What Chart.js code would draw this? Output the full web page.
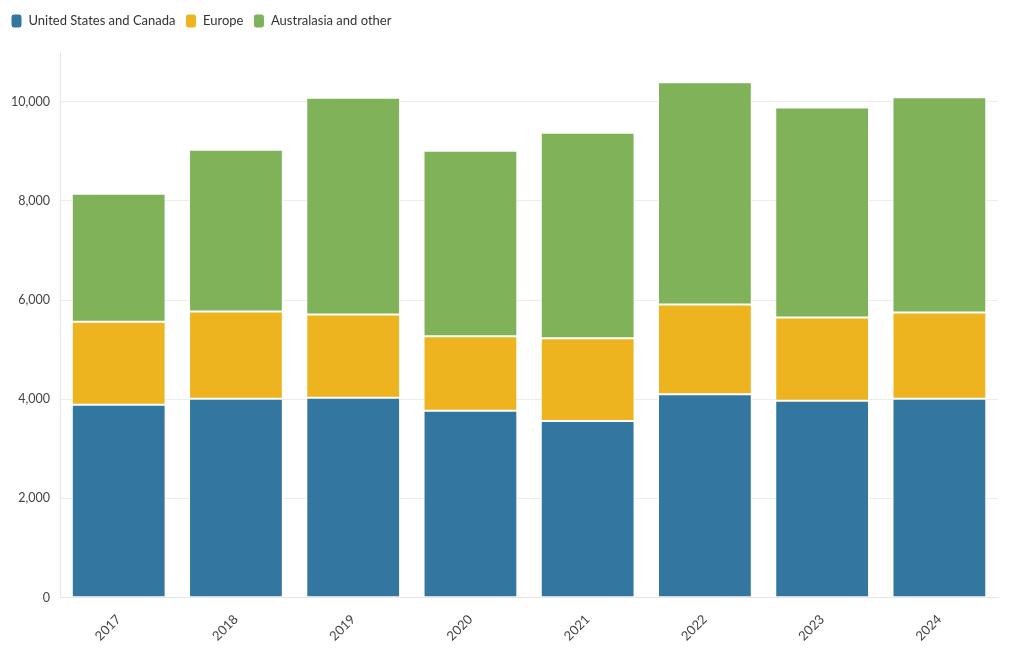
<!DOCTYPE html>
<html>
<head>
<meta charset="utf-8">
<script src="https://cdn.jsdelivr.net/npm/chart.js@4"></script>
<style>
  html, body { margin: 0; padding: 0; background: #fff; }
  #wrap { width: 1020px; height: 650px; }
</style>
</head>
<body>
<div id="wrap"><canvas id="chart"></canvas></div>
<script>
const years = ['2017', '2018', '2019', '2020', '2021', '2022', '2023', '2024'];
const usCanada = [3890, 4010, 4030, 3770, 3560, 4100, 3970, 4010];
const europe = [1670, 1760, 1680, 1500, 1670, 1810, 1680, 1740];
const other = [2580, 3260, 4370, 3740, 4140, 4480, 4230, 4340];
const yTicks = [0, 2000, 4000, 6000, 8000, 10000];

const font = 'Lato, "Source Sans Pro", sans-serif';

function series(label, data, color) {
  return {
    label: label,
    data: data,
    backgroundColor: color,
    borderColor: '#ffffff',
    borderWidth: 1,
    borderSkipped: false,
    categoryPercentage: 0.8,
    barPercentage: 1.0
  };
}

// extra space under the legend
const legendGap = {
  id: 'legendGap',
  beforeInit(chart) {
    const fit = chart.legend.fit;
    chart.legend.fit = function () {
      fit.bind(chart.legend)();
      this.height += 14;
    };
  }
};

new Chart(document.getElementById('chart'), {
  type: 'bar',
  data: {
    labels: years,
    datasets: [
      series('United States and Canada', usCanada, '#33769f'),
      series('Europe', europe, '#eeb420'),
      series('Australasia and other', other, '#80b25a')
    ]
  },
  plugins: [legendGap],
  options: {
    responsive: true,
    maintainAspectRatio: false,
    animation: false,
    layout: { padding: { left: 1, right: 22, top: 4, bottom: 0 } },
    plugins: {
      legend: {
        position: 'top',
        align: 'start',
        labels: {
          font: { family: font, size: 13 },
          color: '#333',
          boxWidth: 11,
          boxHeight: 14,
          useBorderRadius: true,
          borderRadius: 3,
          padding: 10
        }
      },
      tooltip: { enabled: false }
    },
    scales: {
      x: {
        stacked: true,
        grid: { display: false },
        border: { color: '#e6e6e6' },
        ticks: {
          font: { family: font, size: 13 },
          color: '#444',
          padding: 6,
          maxRotation: 45,
          minRotation: 45
        }
      },
      y: {
        stacked: true,
        min: 0,
        max: 11000,
        afterBuildTicks: (axis) => {
          axis.ticks = yTicks.map(v => ({ value: v }));
        },
        grid: { color: '#ececec', drawTicks: false },
        border: { color: '#e6e6e6' },
        ticks: {
          font: { family: font, size: 12.5 },
          color: '#444',
          padding: 10,
          callback: (v) => v.toLocaleString('en-US')
        }
      }
    }
  }
});
</script>
</body>
</html>
